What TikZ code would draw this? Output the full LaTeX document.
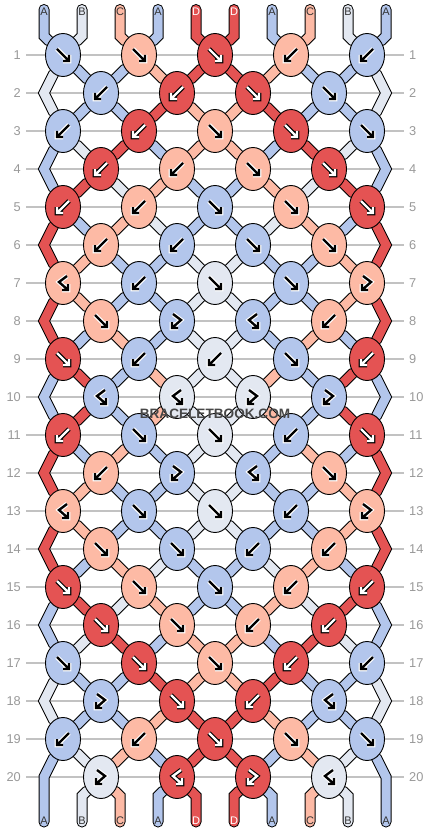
\documentclass[tikz,border=0pt]{standalone}
\usepackage{fontspec}
\setmainfont{Liberation Sans}
\usepackage{xcolor}
\usepackage{tikz}
\usetikzlibrary{shapes.geometric, backgrounds}

\definecolor{strA}{HTML}{B3C6EC}
\definecolor{strB}{HTML}{E3E8F1}
\definecolor{strC}{HTML}{FDBAA5}
\definecolor{strD}{HTML}{E45353}
\colorlet{inkA}{black}
\colorlet{inkB}{black}
\colorlet{inkC}{black}
\colorlet{inkD}{white}
\colorlet{haloA}{white}
\colorlet{haloB}{white}
\colorlet{haloC}{white}
\colorlet{haloD}{black}
\colorlet{labA}{black!80}
\colorlet{labB}{black!80}
\colorlet{labC}{black!80}
\colorlet{labD}{white}
\definecolor{rowgray}{HTML}{C2C2C2}
\definecolor{numgray}{HTML}{999999}

% knot glyphs round the knot centre (pixel units, y down)
\newcommand\glyphF{(-6,-6) -- (6,6) (0,6) -- (6,6) -- (6,0)}
\newcommand\glyphB{(6,-6) -- (-6,6) (0,6) -- (-6,6) -- (-6,0)}
\newcommand\glyphFB{(-4,-7) -- (4,-1) -- (-5,7) (1,7) -- (-5,7) -- (-5,1)}
\newcommand\glyphBF{(4,-7) -- (-4,-1) -- (5,7) (-1,7) -- (5,7) -- (5,1)}

% one piece of thread: black rim, then the colour
\newcommand\strand[2]{%
  \draw[strand edge] #2;
  \draw[strand body, draw=str#1] #2;}

\tikzset{
  knot/.style={ellipse, draw=black, line width=0.9pt, minimum width=35pt,
    minimum height=43pt, inner sep=0pt},
  strand edge/.style={line width=11pt, draw=black, line cap=round, line join=miter},
  strand body/.style={line width=9pt, line cap=round, line join=miter},
  rowrule/.style={draw=rowgray, line width=1.2pt},
  rownum/.style={text=numgray, font=\fontsize{12.8}{14}\selectfont, inner sep=0pt},
  strlabel/.style={font=\fontsize{11}{12}\selectfont, inner sep=0pt},
  watermark/.style={text=black!72, font=\bfseries\fontsize{13.6}{15}\selectfont}
}

\begin{document}
\begin{tikzpicture}[x=1pt, y=-1pt]
    \useasboundingbox (0,0) rectangle (430,832);

    % thread ends and side bends
    \foreach \p in {1,...,10} {
        \coordinate (top-\p) at ({6+38*\p},9.5);
        \coordinate (tb-\p) at ({6+38*\p},36);
        \coordinate (bb-\p) at ({6+38*\p},796);
        \coordinate (bot-\p) at ({6+38*\p},822);
    }
    \foreach \r in {2,4,...,20} {
        \coordinate (e-\r-1) at (44,{17+38*\r});
        \coordinate (e-\r-10) at (386,{17+38*\r});
    }

    % knots: colour / knot type
    \foreach \r/\row in {
        1/{A/F,C/F,D/F,C/B,A/B},
        2/{A/B,D/B,D/F,A/F},
        3/{A/B,D/B,C/F,D/F,A/F},
        4/{D/B,C/B,C/F,D/F},
        5/{D/B,C/B,A/F,C/F,D/F},
        6/{C/B,A/B,A/F,C/F},
        7/{C/BF,A/B,B/F,A/F,C/FB},
        8/{C/F,A/FB,A/BF,C/B},
        9/{D/F,A/B,B/B,A/F,D/B},
        10/{A/BF,B/BF,B/FB,A/FB},
        11/{D/B,A/F,B/F,A/B,D/F},
        12/{C/B,A/FB,A/BF,C/F},
        13/{C/BF,A/F,B/F,A/B,C/FB},
        14/{C/F,A/F,A/B,C/B},
        15/{D/F,C/F,A/F,C/B,D/B},
        16/{D/F,C/F,C/B,D/B},
        17/{A/F,D/F,C/F,D/B,A/B},
        18/{A/FB,D/F,D/B,A/BF},
        19/{A/B,C/B,D/F,C/F,A/F},
        20/{B/FB,D/BF,D/FB,B/BF}} {
        \foreach \c/\t [count=\k] in \row {
            \pgfmathsetmacro\kx{isodd(\r) ? 63+76*(\k-1) : 101+76*(\k-1)}
            \node[knot, fill=str\c] (k-\r-\k) at (\kx,{17+38*\r}) {};
            \expandafter\let\expandafter\gpath\csname glyph\t\endcsname
            \draw[shift={(k-\r-\k)}, line width=4.6pt, draw=halo\c] \gpath;
            \draw[shift={(k-\r-\k)}, line width=2.4pt, draw=ink\c] \gpath;
        }
    }

    \begin{scope}[on background layer]
        \fill[white] (0,0) rectangle (430,832);
        \foreach \r in {1,...,20}
            \draw[rowrule] (26,{17+38*\r}) -- (404,{17+38*\r});
        % top ends
        \foreach \c [count=\p] in {A,B,C,A,D,D,A,C,B,A} {
            \pgfmathtruncatemacro\hi{(\p+1)/2}
            \strand{\c}{(top-\p) -- (tb-\p) -- (k-1-\hi)}
        }
        % threads between rows
        \foreach \r/\st in {
            1/{B,A,A,C,D,D,C,A,A,B},
            2/{B,A,A,D,C,C,D,A,A,B},
            3/{A,B,D,A,C,C,A,D,B,A},
            4/{A,D,B,C,A,A,C,B,D,A},
            5/{D,A,C,B,A,A,B,C,A,D},
            6/{D,C,A,A,B,B,A,A,C,D},
            7/{D,C,A,A,B,B,A,A,C,D},
            8/{D,A,C,A,B,B,A,C,A,D},
            9/{A,D,A,C,B,B,C,A,D,A},
            10/{A,D,A,C,B,B,C,A,D,A},
            11/{D,A,C,A,B,B,A,C,A,D},
            12/{D,C,A,A,B,B,A,A,C,D},
            13/{D,C,A,A,B,B,A,A,C,D},
            14/{D,A,C,B,A,A,B,C,A,D},
            15/{A,D,B,C,A,A,C,B,D,A},
            16/{A,B,D,A,C,C,A,D,B,A},
            17/{B,A,A,D,C,C,D,A,A,B},
            18/{B,A,A,C,D,D,C,A,A,B},
            19/{A,B,C,A,D,D,A,C,B,A}} {
            \pgfmathtruncatemacro\nx{\r+1}
            \foreach \c [count=\p] in \st {
                \pgfmathtruncatemacro\hi{(\p+1)/2}
                \pgfmathtruncatemacro\lo{\p/2}
                \ifnum\p>1\relax\ifnum\p<10\relax
                    \ifodd\r\relax
                        \strand{\c}{(k-\r-\hi) -- (k-\nx-\lo)}
                    \else
                        \strand{\c}{(k-\r-\lo) -- (k-\nx-\hi)}
                    \fi
                \fi\fi
            }
        }
        % side threads
        \foreach \r/\c in {2/B,4/A,6/D,8/D,10/A,12/D,14/D,16/A,18/B,20/A} {
            \pgfmathtruncatemacro\pv{\r-1}
            \pgfmathtruncatemacro\nx{\r+1}
            \ifnum\r=20\relax
                \strand{\c}{(k-\pv-1) -- (e-\r-1) -- (bot-1)}
                \strand{\c}{(k-\pv-5) -- (e-\r-10) -- (bot-10)}
            \else
                \strand{\c}{(k-\pv-1) -- (e-\r-1) -- (k-\nx-1)}
                \strand{\c}{(k-\pv-5) -- (e-\r-10) -- (k-\nx-5)}
            \fi
        }
        % bottom ends
        \foreach \c [count=\p] in {A,B,C,A,D,D,A,C,B,A} {
            \pgfmathtruncatemacro\lo{\p/2}
            \ifnum\p>1\relax\ifnum\p<10\relax
                \strand{\c}{(k-20-\lo) -- (bb-\p) -- (bot-\p)}
            \fi\fi
        }
    \end{scope}

    % row numbers
    \foreach \r in {1,...,20} {
        \node[rownum, anchor=east] (ln-\r) at (21,{17+38*\r}) {\r};
        \node[rownum, anchor=west] (rn-\r) at (409,{17+38*\r}) {\r};
    }
    % thread letters
    \foreach \c [count=\p] in {A,B,C,A,D,D,A,C,B,A} {
        \node[strlabel, text=lab\c] (tl-\p) at ({6+38*\p},12) {\c};
        \node[strlabel, text=lab\c] (bl-\p) at ({6+38*\p},821) {\c};
    }

    \node[watermark] (wm) at (215,414) {BRACELETBOOK.COM};
\end{tikzpicture}
\end{document}
